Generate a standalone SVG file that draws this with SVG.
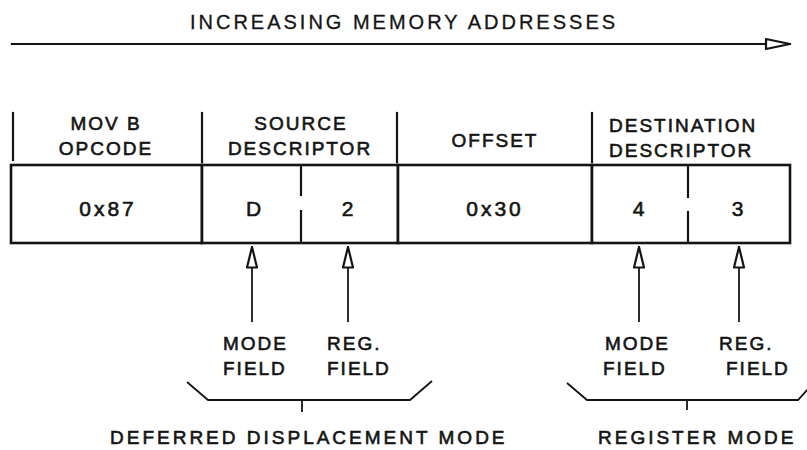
<svg xmlns="http://www.w3.org/2000/svg" width="807" height="450" viewBox="0 0 807 450">
<style>
  text { font-family: "Liberation Sans", Arial, sans-serif; fill: #141414; stroke: #141414; stroke-width: 0.6px; font-size: 19px; letter-spacing: 2px; }
  .hdr { text-anchor: middle; }
  .val { font-size: 21px; text-anchor: middle; letter-spacing: 3px; }
  .lbl { text-anchor: start; }
  .ttl { font-size: 20px; letter-spacing: 3px; text-anchor: middle; stroke-width: 0.3px; }
  .big { letter-spacing: 3px; }
  .ln { stroke: #141414; stroke-width: 2.2; fill: none; stroke-linecap: square; }
  .thin { stroke: #141414; stroke-width: 1.8; fill: none; }
  .box { stroke: #141414; stroke-width: 2.6; fill: #fff; }
</style>
<defs>
  <marker id="openHead" viewBox="0 0 24 14" refX="23" refY="7" markerWidth="24" markerHeight="14" markerUnits="userSpaceOnUse" orient="auto">
    <path d="M1.5 2 L22 7 L1.5 12 Z" fill="#fff" stroke="#141414" stroke-width="2.2" stroke-linejoin="round"/>
  </marker>
  <marker id="openRight" viewBox="0 0 28 14" refX="26" refY="7" markerWidth="28" markerHeight="14" markerUnits="userSpaceOnUse" orient="auto">
    <path d="M2 2 L26 7 L2 12 Z" fill="#fff" stroke="#141414" stroke-width="2.2" stroke-linejoin="round"/>
  </marker>
</defs>
<rect width="807" height="450" fill="#fff"/>

<g id="title">
  <text class="ttl" x="404" y="29">INCREASING MEMORY ADDRESSES</text>
</g>

<g id="header-ticks">
  <line class="ln" x1="13" y1="113" x2="13" y2="160"/>
  <line class="ln" x1="202" y1="113" x2="202" y2="162"/>
  <line class="ln" x1="397" y1="113" x2="397" y2="162"/>
  <line class="ln" x1="592" y1="113" x2="592" y2="162"/>
</g>

<g id="opcode">
  <rect class="box" x="11" y="165" width="191" height="78"/>
  <text class="hdr" x="106" y="130">MOV B</text>
  <text class="hdr" x="106" y="155">OPCODE</text>
  <text class="val" x="108" y="216">0x87</text>
</g>

<g id="source">
  <rect class="box" x="202" y="165" width="196" height="78"/>
  <line class="ln" x1="301" y1="166" x2="301" y2="195"/>
  <line class="ln" x1="301" y1="211" x2="301" y2="242"/>
  <text class="hdr" x="301" y="130">SOURCE</text>
  <text class="hdr" x="300" y="155">DESCRIPTOR</text>
  <text class="val" x="255" y="216">D</text>
  <text class="val" x="349" y="216">2</text>
</g>

<g id="offset">
  <rect class="box" x="398" y="165" width="194" height="78"/>
  <text class="hdr" x="495" y="147">OFFSET</text>
  <text class="val" x="495" y="216">0x30</text>
</g>

<g id="destination">
  <rect class="box" x="592" y="165" width="198" height="78"/>
  <line class="ln" x1="688" y1="166" x2="688" y2="197"/>
  <line class="ln" x1="688" y1="212" x2="688" y2="242"/>
  <text class="lbl" x="609" y="132">DESTINATION</text>
  <text class="lbl" x="609" y="157">DESCRIPTOR</text>
  <text class="val" x="640" y="216">4</text>
  <text class="val" x="739" y="216">3</text>
</g>

<g id="connectors">
  <line class="ln" x1="12" y1="44" x2="790" y2="44" marker-end="url(#openRight)"/>
  <line class="thin" x1="252" y1="322" x2="252" y2="246" marker-end="url(#openHead)"/>
  <line class="thin" x1="348" y1="322" x2="348" y2="246" marker-end="url(#openHead)"/>
  <line class="thin" x1="639" y1="322" x2="639" y2="246" marker-end="url(#openHead)"/>
  <line class="thin" x1="739" y1="322" x2="739" y2="246" marker-end="url(#openHead)"/>
  <polyline class="thin" points="187,382 208,400 410,400 432,381"/>
  <line class="thin" x1="302" y1="400" x2="302" y2="412"/>
  <polyline class="thin" points="567,383 587,400 798,400 808,389"/>
  <line class="thin" x1="687" y1="400" x2="687" y2="410"/>
</g>

<g id="source-labels">
  <text class="lbl" x="223" y="350">MODE</text>
  <text class="lbl" x="223" y="375">FIELD</text>
  <text class="lbl" x="327" y="350">REG.</text>
  <text class="lbl" x="327" y="375">FIELD</text>
  <text class="lbl big" x="110" y="444">DEFERRED DISPLACEMENT MODE</text>
</g>

<g id="dest-labels">
  <text class="lbl" x="605" y="350">MODE</text>
  <text class="lbl" x="603" y="375">FIELD</text>
  <text class="lbl" x="719" y="350">REG.</text>
  <text class="lbl" x="726" y="375">FIELD</text>
  <text class="lbl big" x="598" y="444">REGISTER MODE</text>
</g>
</svg>
